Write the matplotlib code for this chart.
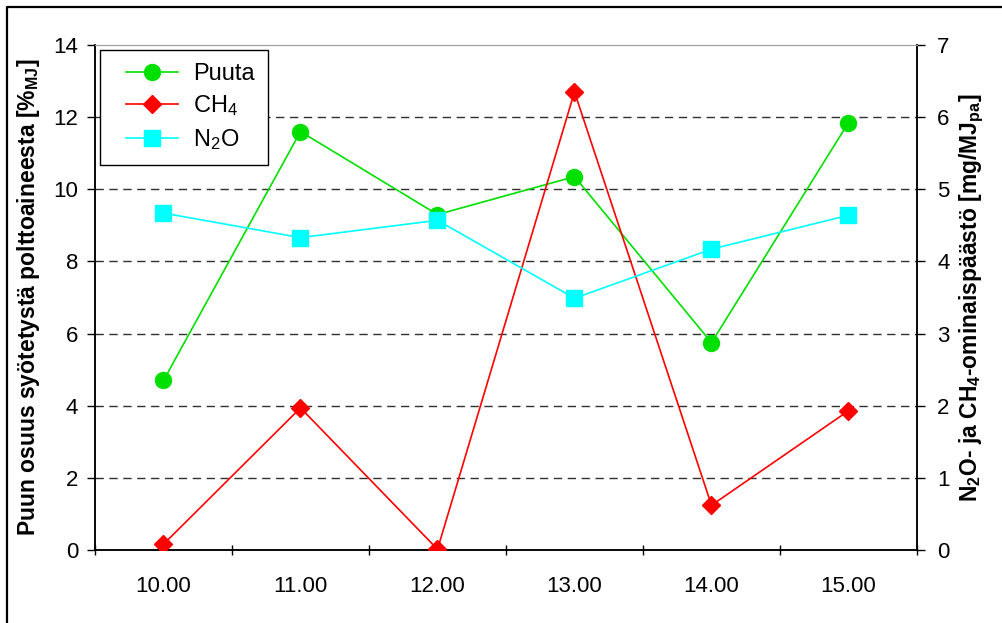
import matplotlib
matplotlib.use("Agg")
import matplotlib.pyplot as plt
from matplotlib.lines import Line2D
from matplotlib.legend_handler import HandlerLine2D

plt.rcParams['font.family'] = ['Liberation Sans', 'DejaVu Sans']
plt.rcParams['mathtext.fontset'] = 'custom'
plt.rcParams['mathtext.rm'] = 'Liberation Sans'
plt.rcParams['mathtext.bf'] = 'Liberation Sans:bold'
plt.rcParams['mathtext.default'] = 'regular'

# Measurement hours and series values
hours = ["10.00", "11.00", "12.00", "13.00", "14.00", "15.00"]
puuta = [4.7, 11.6, 9.3, 10.35, 5.75, 11.85]     # % of fuel energy (left axis)
ch4 = [0.08, 1.97, 0.01, 6.35, 0.62, 1.93]       # mg/MJ (right axis)
n2o = [4.67, 4.33, 4.57, 3.49, 4.17, 4.64]       # mg/MJ (right axis)

left_ticks = [0, 2, 4, 6, 8, 10, 12, 14]
right_ticks = [0, 1, 2, 3, 4, 5, 6, 7]

fig = plt.figure(figsize=(10.03, 6.23), dpi=100)
ax = fig.add_axes([95 / 1003, 73 / 623, 822 / 1003, 505 / 623])
ax2 = ax.twinx()

x = list(range(len(hours)))

# Dashed horizontal grid
for v in left_ticks[1:-1]:
    ax.axhline(v, color='#303030', lw=1.0, ls=(0, (6, 4)), zorder=0)

l1, = ax.plot(x, puuta, color='#00e000', lw=1.2, marker='o', ms=11.5,
              markerfacecolor='#00e000', markeredgecolor='#00e000', zorder=3,
              label='Puuta')
l2, = ax2.plot(x, ch4, color='#ff0000', lw=1.2, marker='D', ms=9.5,
               markerfacecolor='#ff0000', markeredgecolor='#ff0000', zorder=3,
               label='CH$_4$')
l3, = ax2.plot(x, n2o, color='#00ffff', lw=1.2, marker='s', ms=11,
               markerfacecolor='#00ffff', markeredgecolor='#00ffff', zorder=3,
               label='N$_2$O')

ax.set_xlim(-0.5, len(hours) - 0.5)
ax.set_ylim(0, 14)
ax2.set_ylim(0, 7)
ax.set_yticks(left_ticks)
ax2.set_yticks(right_ticks)

ax.set_xticks(x)
ax.set_xticklabels(hours)
ax.set_xticks([i - 0.5 for i in range(len(hours) + 1)], minor=True)
ax.tick_params(axis='x', which='major', length=0, pad=19, labelsize=16)
ax.tick_params(axis='x', which='minor', length=7, width=1.0, direction='inout')
ax.tick_params(axis='y', length=6, width=1.0, direction='out', labelsize=16, pad=6)
ax2.tick_params(axis='y', length=6, width=1.0, direction='out', labelsize=16, pad=8.5)

for a in (ax, ax2):
    a.spines['top'].set_color('#a0a0a0')
    for s in ('left', 'right', 'bottom'):
        a.spines[s].set_color('black')
        a.spines[s].set_linewidth(1.1)

ax.set_ylabel(r'Puun osuus syötetystä polttoaineesta [%$_{\mathbf{MJ}}$]',
              fontsize=16.5, fontweight='bold')
ax2.set_ylabel(r'N$_\mathbf{2}$O- ja CH$_\mathbf{4}$-ominaispäästö [mg/MJ$_{\mathbf{pa}}$]',
               fontsize=16.5, fontweight='bold', rotation=90)
ax.yaxis.set_label_coords(-0.0645, 0.5)
ax2.yaxis.set_label_coords(1.050, 0.5)

handler = HandlerLine2D(xpad=0.55)
leg = ax2.legend(handles=[l1, l2, l3], loc='upper left',
                 bbox_to_anchor=(100 / 1003, 1 - 50 / 623),
                 bbox_transform=fig.transFigure, borderaxespad=0,
                 fontsize=17, frameon=True, fancybox=False, framealpha=1,
                 edgecolor='black', handlelength=2.75, labelspacing=0.36,
                 borderpad=0.55, handletextpad=0.64,
                 handler_map={l1: handler, l2: handler, l3: handler})
leg.get_frame().set_linewidth(1.0)

# Outer frame of the chart
fig.add_artist(Line2D([7 / 1003, 7 / 1003, 1.0], [0, 1 - 7 / 623, 1 - 7 / 623],
                      transform=fig.transFigure, color='black', lw=1.6))

fig.savefig('out.png', dpi=100)
